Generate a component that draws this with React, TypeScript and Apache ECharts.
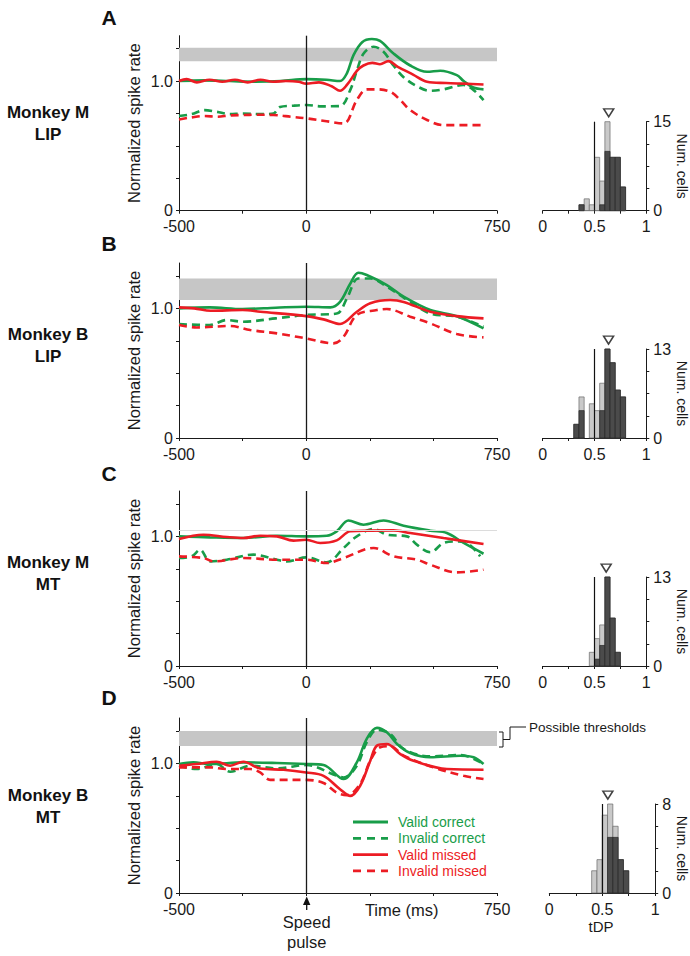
import React, { useEffect, useRef } from 'react';
import * as echarts from 'echarts';

const GREEN = '#189d49';
const RED = '#ec1c24';
const FONT = '"Liberation Sans", Arial, Helvetica, sans-serif';
const INK = '#1a1a1a';

// ---------- time-course data: [time (ms), normalized spike rate] ----------
const aValidCorrect = [[-500,1.0],[-400,1.005],[-300,1.0],[-200,0.995],[-100,1.0],[0,1.015],[80,1.01],[133,1.0],[160,1.06],[186,1.2],[220,1.3],[258,1.324],[290,1.31],[343,1.213],[409,1.12],[475,1.072],[527,1.08],[592,1.046],[619,1.0],[657,0.95],[697,0.936]];
const aInvalidCorrect = [[-500,0.73],[-450,0.745],[-400,0.776],[-352,0.763],[-300,0.745],[-250,0.75],[-180,0.745],[-129,0.75],[-103,0.8],[-50,0.81],[2,0.815],[60,0.805],[133,0.807],[173,0.93],[199,1.08],[225,1.21],[265,1.265],[304,1.226],[343,1.12],[383,1.03],[435,0.96],[488,0.925],[540,0.936],[619,0.97],[658,0.93],[697,0.853]];
const aValidMissed = [[-500,1.0],[-470,1.015],[-430,0.99],[-380,1.01],[-330,0.995],[-280,1.01],[-230,0.99],[-180,1.01],[-130,0.995],[-80,1.0],[-30,0.995],[0,0.98],[50,0.99],[100,0.96],[133,0.925],[160,0.97],[200,1.08],[225,1.12],[260,1.14],[290,1.13],[323,1.154],[360,1.11],[420,1.05],[475,0.995],[550,0.985],[620,0.98],[697,0.974]];
const aInvalidMissed = [[-500,0.704],[-450,0.72],[-400,0.73],[-350,0.725],[-300,0.735],[-247,0.738],[-200,0.74],[-129,0.738],[-60,0.725],[2,0.712],[80,0.69],[147,0.673],[199,0.853],[238,0.936],[278,0.936],[330,0.918],[370,0.853],[409,0.776],[475,0.7],[540,0.66],[697,0.66]];

const bValidCorrect = [[-500,1.0],[-380,1.008],[-250,0.995],[-120,1.005],[0,1.013],[95,1.008],[133,1.05],[173,1.19],[205,1.275],[238,1.257],[317,1.18],[383,1.09],[488,0.987],[592,0.94],[697,0.846]];
const bInvalidCorrect = [[-500,0.879],[-380,0.871],[-312,0.91],[-250,0.897],[-120,0.923],[0,0.949],[120,0.96],[160,1.077],[205,1.231],[252,1.231],[317,1.167],[409,1.05],[488,0.96],[592,0.936],[697,0.859]];
const bValidMissed = [[-500,1.008],[-440,1.0],[-375,0.982],[-250,0.987],[-180,0.974],[0,0.94],[68,0.915],[133,0.879],[199,0.974],[252,1.039],[330,1.064],[383,1.05],[488,0.974],[592,0.94],[697,0.923]];
const bInvalidMissed = [[-500,0.871],[-430,0.853],[-299,0.864],[-220,0.833],[-115,0.807],[-37,0.781],[0,0.768],[107,0.73],[147,0.781],[199,0.949],[278,0.987],[317,0.995],[409,0.936],[488,0.884],[592,0.802],[697,0.776]];

const cValidCorrect = [[-500,1.0],[-378,0.992],[-247,0.987],[-115,1.005],[0,1.0],[81,1.005],[120,1.039],[166,1.123],[225,1.09],[304,1.123],[383,1.082],[488,1.044],[553,1.026],[619,0.949],[697,0.866]];
const cValidMissed = [[-500,0.979],[-404,1.013],[-312,0.995],[-247,0.987],[-181,1.005],[-115,1.0],[-50,0.967],[0,0.974],[55,0.949],[120,0.969],[173,1.039],[252,1.044],[343,1.046],[409,1.026],[540,0.987],[697,0.941]];
const cInvalidCorrect = [[-500,0.833],[-450,0.846],[-417,0.897],[-378,0.807],[-312,0.82],[-207,0.859],[-115,0.82],[-76,0.807],[0,0.838],[81,0.8],[147,0.91],[199,1.0],[265,1.057],[317,1.013],[396,1.0],[435,0.936],[488,0.877],[540,0.949],[592,0.961],[632,0.949],[684,0.846]];
const cInvalidMissed = [[-500,0.846],[-404,0.833],[-365,0.807],[-247,0.833],[-115,0.82],[0,0.82],[81,0.794],[147,0.833],[265,0.91],[343,0.846],[435,0.82],[488,0.781],[592,0.722],[697,0.743]];

const dValidCorrect = [[-500,0.995],[-444,1.008],[-378,0.995],[-247,1.008],[-115,1.003],[0,0.995],[68,0.987],[147,0.879],[199,1.008],[238,1.189],[278,1.274],[317,1.24],[357,1.15],[409,1.08],[488,1.047],[606,1.059],[658,1.047],[697,0.995]];
const dInvalidCorrect = [[-500,0.982],[-430,0.956],[-352,0.995],[-299,0.935],[-220,0.982],[-115,0.961],[0,0.987],[120,0.904],[147,0.891],[199,0.982],[238,1.163],[278,1.258],[330,1.227],[383,1.111],[488,1.054],[606,1.065],[697,0.995]];
const dValidMissed = [[-500,0.982],[-430,0.995],[-352,1.013],[-299,0.982],[-247,1.013],[-181,0.961],[-89,0.951],[0,0.93],[68,0.904],[133,0.801],[173,0.749],[212,0.827],[252,1.021],[278,1.137],[317,1.15],[370,1.072],[422,1.021],[553,0.956],[697,0.951]];
const dInvalidMissed = [[-500,0.969],[-378,0.969],[-312,0.956],[-220,0.956],[-181,0.93],[-142,0.873],[0,0.873],[68,0.848],[120,0.775],[160,0.755],[212,0.84],[252,1.021],[291,1.124],[330,1.132],[383,1.06],[500,0.969],[619,0.904],[697,0.879]];

// threshold bands [low, high]
const aBand = [1.152, 1.257];
const bBand = [1.064, 1.231];
const dBand = [1.134, 1.25];
const cRefLine = 1.055;

// ---------- tDP histograms ----------
const histBinStart = [0.30, 0.35, 0.40, 0.45, 0.50, 0.55, 0.60, 0.65, 0.70, 0.75];
const binWidth = 0.05;
const aAllCells = [0, 1, 2, 1, 9, 5, 15, 9, 9, 4];
const aSigCells = [0, 1, 0, 0, 0, 1, 10, 9, 9, 4];
const bAllCells = [2, 6, 0, 5, 4, 8, 13, 11, 7, 6];
const bSigCells = [2, 4, 0, 0, 0, 4, 13, 11, 7, 6];
const cAllCells = [0, 0, 0, 2, 4, 6, 13, 7, 2, 0];
const cSigCells = [0, 0, 0, 0, 1, 3, 13, 7, 2, 0];
const dAllCells = [0, 0, 2, 3, 7, 8, 6, 3, 2, 0];
const dSigCells = [0, 0, 0, 0, 0, 5, 5, 3, 2, 0];
const histMax = [15, 13, 13, 8];
const histMean = [0.637, 0.636, 0.613, 0.553];

const lineTicksX = [-500, -250, 0, 250, 500, 750];
const lineLabelsX = [-500, 0, 750];
const lineLabelsXLast = [-500, 750];
const lineTicksY = [0, 0.25, 0.5, 0.75, 1, 1.25];
const lineLabelsY = [0, 1];
const histTicksX = [0, 0.25, 0.5, 0.75, 1];
const histLabelsX = [0, 0.5, 1];

const seriesNames = ['Valid correct', 'Invalid correct', 'Valid missed', 'Invalid missed'];
const panelLetters = ['A', 'B', 'C', 'D'];
const rowLabels = [['Monkey M', 'LIP'], ['Monkey B', 'LIP'], ['Monkey M', 'MT'], ['Monkey B', 'MT']];

const panels = [
  { lines: [aValidCorrect, aInvalidCorrect, aValidMissed, aInvalidMissed], band: aBand, ref: null as number | null, all: aAllCells, sig: aSigCells },
  { lines: [bValidCorrect, bInvalidCorrect, bValidMissed, bInvalidMissed], band: bBand, ref: null as number | null, all: bAllCells, sig: bSigCells },
  { lines: [cValidCorrect, cInvalidCorrect, cValidMissed, cInvalidMissed], band: null as number[] | null, ref: cRefLine, all: cAllCells, sig: cSigCells },
  { lines: [dValidCorrect, dInvalidCorrect, dValidMissed, dInvalidMissed], band: dBand, ref: null as number | null, all: dAllCells, sig: dSigCells },
];

// layout (pixels)
const zeroY = [210.7, 438, 666, 893];
const LINE_LEFT = 179, LINE_W = 318, LINE_H = 175;
const HIST_H = 89;
const histLeft = [542.7, 542.7, 542.7, 549.3];
const histW = [112.3, 112.3, 112.3, 106.7];
const rowLabelY = [112, 334, 562, 795];
const letterY = [17, 243, 473, 697];
const legendTop = 822, legendStep = 16.3, legendX = 353;

const axisLineStyle = { onZero: false, lineStyle: { color: INK, width: 1 } };
const labelStyle = { fontSize: 16, color: INK, fontFamily: FONT };

function buildOption() {
  const grid: any[] = [];
  const xAxis: any[] = [];
  const yAxis: any[] = [];
  const series: any[] = [];
  const graphic: any[] = [];

  panels.forEach((p, i) => {
    // ---- line chart grid ----
    const gi = grid.length;
    grid.push({ left: LINE_LEFT, top: zeroY[i] - LINE_H, width: LINE_W, height: LINE_H });
    xAxis.push({
      type: 'value', gridIndex: gi, min: -500, max: 750, interval: 250,
      axisLine: axisLineStyle,
      axisTick: { show: true, length: 3, lineStyle: { color: INK }, customValues: lineTicksX },
      axisLabel: { ...labelStyle, margin: 9, lineHeight: 14, customValues: i === 3 ? lineLabelsXLast : lineLabelsX },
      splitLine: { show: false },
    });
    yAxis.push({
      type: 'value', gridIndex: gi, min: 0, max: 1.35,
      axisLine: { show: true, ...axisLineStyle },
      axisTick: { show: true, length: 3, lineStyle: { color: INK }, customValues: lineTicksY },
      axisLabel: { ...labelStyle, margin: 6, lineHeight: 13, customValues: lineLabelsY, formatter: (v: number) => (v === 1 ? '1.0' : String(v)) },
      splitLine: { show: false },
      name: 'Normalized spike rate', nameLocation: 'middle', nameGap: 37,
      nameTextStyle: { fontSize: 16.5, color: INK, fontFamily: FONT },
    });

    const markLineData: any[] = [{ xAxis: 0 }];
    if (p.ref != null) markLineData.push({ yAxis: p.ref, lineStyle: { color: '#dcdcdc', width: 1, type: 'solid' } });
    series.push({
      type: 'line', xAxisIndex: gi, yAxisIndex: gi, data: [], z: 1, silent: true,
      markArea: p.band ? {
        silent: true, itemStyle: { color: '#c6c6c6' },
        data: [[{ yAxis: p.band[0] }, { yAxis: p.band[1] }]],
      } : undefined,
      markLine: {
        silent: true, symbol: ['none', 'none'], label: { show: false },
        lineStyle: { color: INK, width: 1.3, type: 'solid' },
        data: markLineData,
      },
    });
    const order = [1, 3, 0, 2];
    order.forEach((k) => {
      series.push({
        type: 'line', name: seriesNames[k], xAxisIndex: gi, yAxisIndex: gi,
        data: p.lines[k], showSymbol: false, symbol: 'none', smooth: 0.35, z: 3,
        lineStyle: { color: k < 2 ? GREEN : RED, width: 2.6, type: k % 2 === 1 ? [8, 5] : 'solid' },
        itemStyle: { color: k < 2 ? GREEN : RED },
      });
    });

    // ---- histogram grid ----
    const hi = grid.length;
    const M = histMax[i];
    grid.push({ left: histLeft[i], top: zeroY[i] - HIST_H, width: histW[i], height: HIST_H });
    xAxis.push({
      type: 'value', gridIndex: hi, min: 0, max: 1, interval: 0.25,
      axisLine: axisLineStyle,
      axisTick: { show: true, length: 3, lineStyle: { color: INK }, customValues: histTicksX },
      axisLabel: { ...labelStyle, margin: 9, lineHeight: 14, customValues: histLabelsX },
      splitLine: { show: false },
    });
    yAxis.push({
      type: 'value', gridIndex: hi, min: 0, max: M, position: 'right',
      axisLine: { show: true, ...axisLineStyle },
      axisTick: { show: true, length: 3, lineStyle: { color: INK }, customValues: [0, M / 4, M / 2, (3 * M) / 4, M] },
      axisLabel: { ...labelStyle, margin: 7, lineHeight: 13, customValues: [0, M] },
      splitLine: { show: false },
      name: 'Num. cells', nameLocation: 'middle', nameRotate: -90, nameGap: 13,
      nameTextStyle: { fontSize: 14, color: INK, fontFamily: FONT },
    });
    const mkBars = (counts: number[], fill: string, stroke: string, z: number) => ({
      type: 'custom', xAxisIndex: hi, yAxisIndex: hi, z, silent: true,
      data: histBinStart.map((b, j) => [b, counts[j]]).filter((d) => d[1] > 0),
      renderItem: (_params: any, api: any) => {
        const x0 = api.value(0);
        const c = api.value(1);
        const p0 = api.coord([x0, c]);
        const p1 = api.coord([x0 + binWidth, 0]);
        return {
          type: 'rect',
          shape: { x: p0[0], y: p0[1], width: p1[0] - p0[0], height: p1[1] - p0[1] },
          style: { fill, stroke, lineWidth: 0.7 },
        };
      },
    });
    series.push(mkBars(p.all, '#c9c9c9', '#6a6a6a', 2));
    series.push(mkBars(p.sig, '#4b4b4b', '#262626', 3));
    series.push({
      type: 'scatter', xAxisIndex: hi, yAxisIndex: hi, z: 5, silent: true, clip: false,
      data: [[histMean[i], M * 1.1]],
      symbol: 'triangle', symbolRotate: 180, symbolSize: [10, 8],
      itemStyle: { color: '#fff', borderColor: '#111', borderWidth: 1.5 },
      markLine: {
        silent: true, symbol: ['none', 'none'], label: { show: false },
        lineStyle: { color: '#111', width: 1.2, type: 'solid' },
        data: [{ xAxis: 0.5 }],
      },
    });

    // ---- labels ----
    graphic.push({
      type: 'text', x: 109, y: letterY[i], silent: true,
      style: { text: panelLetters[i], fontSize: 21, fontWeight: 'bold', fontFamily: FONT, fill: '#111', align: 'center', verticalAlign: 'middle' },
    });
    rowLabels[i].forEach((t, k) => {
      graphic.push({
        type: 'text', x: 48, y: rowLabelY[i] + k * 22, silent: true,
        style: { text: t, fontSize: 17, fontWeight: 'bold', fontFamily: FONT, fill: '#111', align: 'center', verticalAlign: 'middle' },
      });
    });
  });

  // legend (drawn in panel D)
  seriesNames.forEach((n, k) => {
    const y = legendTop + k * legendStep;
    const color = k < 2 ? GREEN : RED;
    graphic.push(
      { type: 'line', silent: true, shape: { x1: legendX, y1: y, x2: legendX + 35, y2: y }, style: { stroke: color, lineWidth: 2.8, lineDash: k % 2 === 1 ? [8, 6] : null } },
      { type: 'text', x: legendX + 45, y, silent: true, style: { text: n, fontSize: 14, fontFamily: FONT, fill: color, align: 'left', verticalAlign: 'middle' } },
    );
  });

  // annotations in panel D
  graphic.push(
    { type: 'polyline', silent: true, shape: { points: [[499, 732], [503, 732], [503, 747], [499, 747]] }, style: { stroke: INK, lineWidth: 1, fill: null } },
    { type: 'polyline', silent: true, shape: { points: [[503, 739.5], [510, 739.5], [510, 727], [526, 727]] }, style: { stroke: INK, lineWidth: 1, fill: null } },
    { type: 'text', x: 529, y: 727, silent: true, style: { text: 'Possible thresholds', fontSize: 13.5, fontFamily: FONT, fill: INK, align: 'left', verticalAlign: 'middle' } },
    { type: 'polygon', silent: true, shape: { points: [[306.7, 896.5], [303, 905], [310.4, 905]] }, style: { fill: '#111' } },
    { type: 'line', silent: true, shape: { x1: 306.7, y1: 904, x2: 306.7, y2: 910 }, style: { stroke: '#111', lineWidth: 1.3 } },
    { type: 'text', x: 306.7, y: 922, silent: true, style: { text: 'Speed', fontSize: 16.5, fontFamily: FONT, fill: INK, align: 'center', verticalAlign: 'middle' } },
    { type: 'text', x: 306.7, y: 942, silent: true, style: { text: 'pulse', fontSize: 16.5, fontFamily: FONT, fill: INK, align: 'center', verticalAlign: 'middle' } },
    { type: 'text', x: 401.7, y: 910, silent: true, style: { text: 'Time (ms)', fontSize: 16.5, fontFamily: FONT, fill: INK, align: 'center', verticalAlign: 'middle' } },
    { type: 'text', x: 601, y: 926, silent: true, style: { text: 'tDP', fontSize: 15, fontFamily: FONT, fill: INK, align: 'center', verticalAlign: 'middle' } },
  );

  return {
    animation: false,
    backgroundColor: '#fff',
    textStyle: { fontFamily: FONT },
    grid, xAxis, yAxis, series, graphic,
  };
}

export default function App() {
  const ref = useRef<HTMLDivElement>(null);
  useEffect(() => {
    if (!ref.current) return;
    const chart = echarts.init(ref.current, undefined, { renderer: 'svg' });
    chart.setOption(buildOption() as any);
    return () => chart.dispose();
  }, []);
  return <div ref={ref} style={{ position: 'absolute', left: 0, top: 0, width: 690, height: 956, background: '#fff' }} />;
}
